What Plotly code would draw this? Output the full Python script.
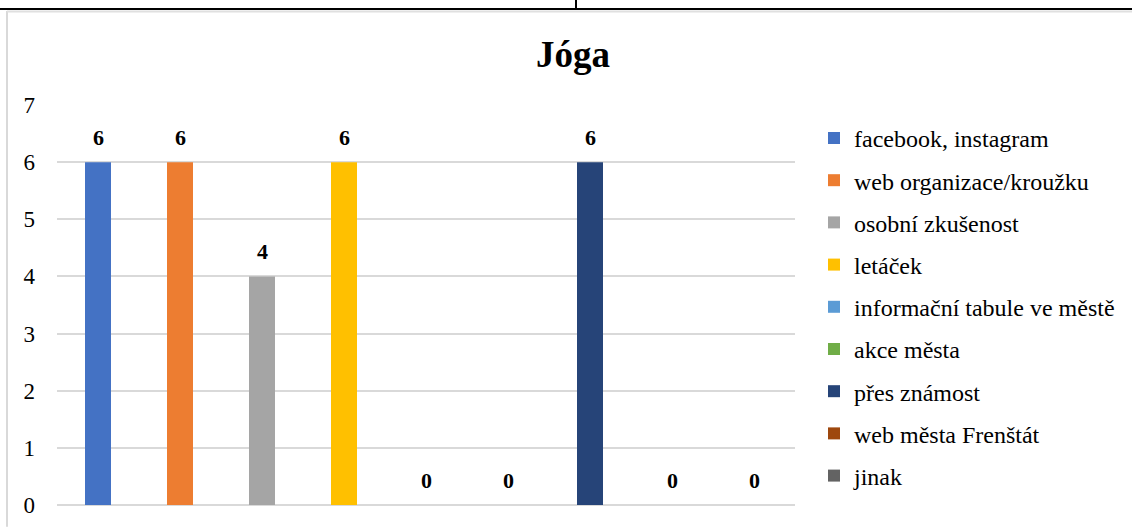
import plotly.graph_objects as go

categories = ["facebook, instagram", "web organizace/kroužku", "osobní zkušenost", "letáček",
              "informační tabule ve městě", "akce města", "přes známost", "web města Frenštát", "jinak"]
values = [6, 6, 4, 6, 0, 0, 6, 0, 0]
colors = ["#4472C4", "#ED7D31", "#A5A5A5", "#FFC000", "#5B9BD5", "#70AD47", "#264478", "#9E480E", "#636363"]
y_ticks = [0, 1, 2, 3, 4, 5, 6, 7]
title_text = "Jóga"

FONT = "'Times New Roman', 'Liberation Serif', serif"

W, H = 1132, 530
L, R, T, B = 57, 795, 105, 509

fig = go.Figure()
for i, (c, v, col) in enumerate(zip(categories, values, colors)):
    fig.add_trace(go.Bar(x=[i], y=[v], name=c, marker=dict(color=col, line=dict(width=0)),
                         width=0.317, legendgroup=c, hoverinfo="y+name"))

annotations = []
for i, v in enumerate(values):
    annotations.append(dict(x=i, y=v, xref="x", yref="y", text="<b>%d</b>" % v, showarrow=False,
                            yanchor="middle", yshift=25,
                            font=dict(family=FONT, size=22, color="#000000")))

def px(xp):
    return (xp - L) / (R - L)

def py(yp):
    return (B - yp) / (B - T)

shapes = [
    dict(type="line", xref="paper", yref="paper", x0=px(7), x1=px(7), y0=py(10), y1=py(531),
         line=dict(color="#D9D9D9", width=2)),
    dict(type="line", xref="paper", yref="paper", x0=px(7), x1=px(1133), y0=py(10.5), y1=py(10.5),
         line=dict(color="#E0E0E0", width=2)),
    dict(type="line", xref="paper", yref="paper", x0=px(-1), x1=px(1133), y0=py(8), y1=py(8),
         line=dict(color="#000000", width=2)),
    dict(type="line", xref="paper", yref="paper", x0=px(576), x1=px(576), y0=py(-1), y1=py(8),
         line=dict(color="#000000", width=2)),
]

fig.update_layout(
    width=W, height=H,
    margin=dict(l=L, r=W - R, t=T, b=H - B, pad=0),
    paper_bgcolor="white", plot_bgcolor="white",
    barmode="overlay",
    font=dict(family=FONT, color="#000000"),
    title=dict(text="<b>%s</b>" % title_text, x=573 / W, xanchor="center", y=1 - 54 / H, yanchor="middle",
               font=dict(family=FONT, size=37, color="#000000")),
    xaxis=dict(range=[-0.5, 8.5], showgrid=False, showticklabels=False, zeroline=False, showline=False,
               fixedrange=True),
    yaxis=dict(range=[0, 7], tickvals=y_ticks, showgrid=True, gridcolor="#D9D9D9", gridwidth=1.5,
               zeroline=True, zerolinecolor="#D9D9D9", zerolinewidth=1.5, showline=False,
               ticks="", ticklabelstandoff=21,
               tickfont=dict(family=FONT, size=23, color="#000000"), fixedrange=True),
    legend=dict(x=(814 - L) / (R - L), xanchor="left", y=py(116), yanchor="top",
                font=dict(family=FONT, size=24, color="#000000"),
                tracegroupgap=8, itemwidth=30, bgcolor="rgba(0,0,0,0)"),
    showlegend=True,
    annotations=annotations,
    shapes=shapes,
)

fig.write_html("out.html", config={"displayModeBar": False},
               post_script="document.body.style.margin='0';document.body.style.padding='0';")
